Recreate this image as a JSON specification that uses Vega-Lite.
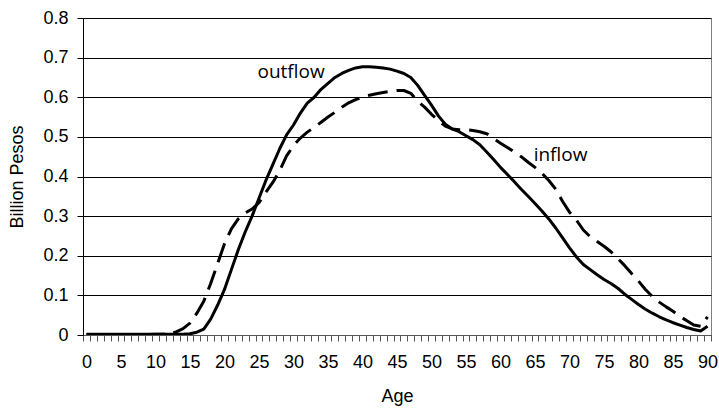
{
  "$schema": "https://vega.github.io/schema/vega-lite/v6.json",
  "width": 628,
  "height": 317,
  "autosize": "none",
  "padding": {"left": 83, "top": 18, "right": 8, "bottom": 74},
  "background": "white",
  "config": {
    "view": {"stroke": "#808080", "strokeWidth": 1},
    "font": "Liberation Sans",
    "axis": {"labelFont": "Liberation Sans", "titleFont": "Liberation Sans", "labelColor": "#000", "titleColor": "#000", "titleFontWeight": "normal"}
  },
  "datasets": {
    "flows": [
      {"age":0,"outflow":0.002,"inflow":0.001},{"age":1,"outflow":0.002,"inflow":0.001},{"age":2,"outflow":0.002,"inflow":0.001},{"age":3,"outflow":0.002,"inflow":0.001},{"age":4,"outflow":0.002,"inflow":0.001},{"age":5,"outflow":0.002,"inflow":0.001},{"age":6,"outflow":0.002,"inflow":0.001},{"age":7,"outflow":0.002,"inflow":0.001},{"age":8,"outflow":0.002,"inflow":0.001},{"age":9,"outflow":0.002,"inflow":0.001},{"age":10,"outflow":0.002,"inflow":0.002},{"age":11,"outflow":0.002,"inflow":0.002},{"age":12,"outflow":0.002,"inflow":0.003},{"age":13,"outflow":0.002,"inflow":0.008},{"age":14,"outflow":0.002,"inflow":0.016},
      {"age":15,"outflow":0.003,"inflow":0.03},{"age":16,"outflow":0.007,"inflow":0.055},{"age":17,"outflow":0.015,"inflow":0.085},{"age":18,"outflow":0.04,"inflow":0.13},{"age":19,"outflow":0.075,"inflow":0.18},{"age":20,"outflow":0.115,"inflow":0.23},{"age":21,"outflow":0.165,"inflow":0.268},{"age":22,"outflow":0.215,"inflow":0.293},{"age":23,"outflow":0.26,"inflow":0.308},{"age":24,"outflow":0.3,"inflow":0.318},
      {"age":25,"outflow":0.345,"inflow":0.334},{"age":26,"outflow":0.39,"inflow":0.36},{"age":27,"outflow":0.43,"inflow":0.385},{"age":28,"outflow":0.47,"inflow":0.415},{"age":29,"outflow":0.505,"inflow":0.452},{"age":30,"outflow":0.53,"inflow":0.478},{"age":31,"outflow":0.56,"inflow":0.497},{"age":32,"outflow":0.585,"inflow":0.512},{"age":33,"outflow":0.6,"inflow":0.524},{"age":34,"outflow":0.62,"inflow":0.537},
      {"age":35,"outflow":0.635,"inflow":0.55},{"age":36,"outflow":0.65,"inflow":0.562},{"age":37,"outflow":0.66,"inflow":0.575},{"age":38,"outflow":0.668,"inflow":0.586},{"age":39,"outflow":0.674,"inflow":0.594},{"age":40,"outflow":0.677,"inflow":0.6},{"age":41,"outflow":0.677,"inflow":0.605},{"age":42,"outflow":0.676,"inflow":0.609},{"age":43,"outflow":0.674,"inflow":0.612},{"age":44,"outflow":0.671,"inflow":0.615},
      {"age":45,"outflow":0.666,"inflow":0.617},{"age":46,"outflow":0.66,"inflow":0.617},{"age":47,"outflow":0.65,"inflow":0.61},{"age":48,"outflow":0.63,"inflow":0.59},{"age":49,"outflow":0.605,"inflow":0.575},{"age":50,"outflow":0.58,"inflow":0.557},{"age":51,"outflow":0.553,"inflow":0.541},{"age":52,"outflow":0.532,"inflow":0.527},{"age":53,"outflow":0.52,"inflow":0.52},{"age":54,"outflow":0.513,"inflow":0.518},
      {"age":55,"outflow":0.503,"inflow":0.518},{"age":56,"outflow":0.493,"inflow":0.516},{"age":57,"outflow":0.48,"inflow":0.513},{"age":58,"outflow":0.462,"inflow":0.508},{"age":59,"outflow":0.443,"inflow":0.496},{"age":60,"outflow":0.423,"inflow":0.484},{"age":61,"outflow":0.405,"inflow":0.473},{"age":62,"outflow":0.387,"inflow":0.462},{"age":63,"outflow":0.368,"inflow":0.45},{"age":64,"outflow":0.35,"inflow":0.436},
      {"age":65,"outflow":0.332,"inflow":0.423},{"age":66,"outflow":0.313,"inflow":0.408},{"age":67,"outflow":0.293,"inflow":0.39},{"age":68,"outflow":0.27,"inflow":0.368},{"age":69,"outflow":0.245,"inflow":0.337},{"age":70,"outflow":0.22,"inflow":0.31},{"age":71,"outflow":0.197,"inflow":0.29},{"age":72,"outflow":0.178,"inflow":0.265},{"age":73,"outflow":0.165,"inflow":0.248},{"age":74,"outflow":0.152,"inflow":0.236},
      {"age":75,"outflow":0.14,"inflow":0.224},{"age":76,"outflow":0.13,"inflow":0.21},{"age":77,"outflow":0.118,"inflow":0.193},{"age":78,"outflow":0.103,"inflow":0.175},{"age":79,"outflow":0.09,"inflow":0.155},{"age":80,"outflow":0.077,"inflow":0.136},{"age":81,"outflow":0.065,"inflow":0.115},{"age":82,"outflow":0.055,"inflow":0.097},{"age":83,"outflow":0.046,"inflow":0.083},{"age":84,"outflow":0.038,"inflow":0.071},
      {"age":85,"outflow":0.031,"inflow":0.06},{"age":86,"outflow":0.025,"inflow":0.047},{"age":87,"outflow":0.019,"inflow":0.036},{"age":88,"outflow":0.014,"inflow":0.025},{"age":89,"outflow":0.01,"inflow":0.022},{"age":90,"outflow":0.022,"inflow":0.046}
    ],
    "labels": [
      {"label":"outflow","age":29.65,"value":0.6625},
      {"label":"inflow","age":68.7,"value":0.454}
    ]
  },
  "encoding": {
    "x": {"field": "age", "type": "quantitative", "title": "Age",
      "scale": {"domain": [-0.5, 90.5], "nice": false, "zero": false},
      "axis": {
        "values": [-0.5,0.5,1.5,2.5,3.5,4.5,5.5,6.5,7.5,8.5,9.5,10.5,11.5,12.5,13.5,14.5,15.5,16.5,17.5,18.5,19.5,20.5,21.5,22.5,23.5,24.5,25.5,26.5,27.5,28.5,29.5,30.5,31.5,32.5,33.5,34.5,35.5,36.5,37.5,38.5,39.5,40.5,41.5,42.5,43.5,44.5,45.5,46.5,47.5,48.5,49.5,50.5,51.5,52.5,53.5,54.5,55.5,56.5,57.5,58.5,59.5,60.5,61.5,62.5,63.5,64.5,65.5,66.5,67.5,68.5,69.5,70.5,71.5,72.5,73.5,74.5,75.5,76.5,77.5,78.5,79.5,80.5,81.5,82.5,83.5,84.5,85.5,86.5,87.5,88.5,89.5,90.5],
        "labelExpr": "(datum.value + 0.5) % 5 == 0 && datum.value < 90 ? format(datum.value + 0.5, 'd') : ''",
        "labelOffset": 3.45,
        "labelOverlap": false,
        "labelFlush": false,
        "labelBound": false,
        "labelFontSize": 18,
        "labelPadding": 12,
        "labelAngle": 0,
        "tickSize": 6,
        "tickColor": "#555",
        "domainColor": "#555",
        "grid": false,
        "titleFontSize": 18,
        "titlePadding": 16
      }
    },
    "y": {"field": "outflow", "type": "quantitative", "title": "Billion Pesos",
      "scale": {"domain": [0, 0.8], "nice": false},
      "axis": {
        "values": [0,0.1,0.2,0.3,0.4,0.5,0.6,0.7,0.8],
        "labelExpr": "datum.value == 0 ? '0' : format(datum.value, '.1f')",
        "labelFontSize": 18,
        "labelPadding": 9,
        "tickSize": 6,
        "tickColor": "#000",
        "domainColor": "#000",
        "grid": true,
        "gridColor": "#000",
        "gridWidth": 1,
        "titleFontSize": 18,
        "titlePadding": 16
      }
    }
  },
  "layer": [
    {
      "data": {"name": "flows"},
      "mark": {"type": "line", "color": "#000", "strokeWidth": 3, "strokeJoin": "round", "clip": true}
    },
    {
      "data": {"name": "flows"},
      "mark": {"type": "line", "color": "#000", "strokeWidth": 3, "strokeDash": [20, 9], "strokeJoin": "round", "clip": true},
      "encoding": {
        "y": {"field": "inflow", "type": "quantitative", "title": "Billion Pesos",
          "scale": {"domain": [0, 0.8], "nice": false},
          "axis": {
            "values": [0,0.1,0.2,0.3,0.4,0.5,0.6,0.7,0.8],
            "labelExpr": "datum.value == 0 ? '0' : format(datum.value, '.1f')",
            "labelFontSize": 18,
            "labelPadding": 9,
            "tickSize": 6,
            "tickColor": "#000",
            "domainColor": "#000",
            "grid": true,
            "gridColor": "#000",
            "gridWidth": 1,
            "titleFontSize": 18,
            "titlePadding": 16
          }
        }
      }
    },
    {
      "data": {"name": "labels"},
      "mark": {"type": "text", "font": "Open Sans", "fontSize": 19, "color": "#000", "align": "center", "baseline": "middle"},
      "encoding": {
        "y": {"field": "value", "type": "quantitative", "title": "Billion Pesos",
          "scale": {"domain": [0, 0.8], "nice": false},
          "axis": {
            "values": [0,0.1,0.2,0.3,0.4,0.5,0.6,0.7,0.8],
            "labelExpr": "datum.value == 0 ? '0' : format(datum.value, '.1f')",
            "labelFontSize": 18,
            "labelPadding": 9,
            "tickSize": 6,
            "tickColor": "#000",
            "domainColor": "#000",
            "grid": true,
            "gridColor": "#000",
            "gridWidth": 1,
            "titleFontSize": 18,
            "titlePadding": 16
          }
        },
        "text": {"field": "label"}
      }
    }
  ]
}
